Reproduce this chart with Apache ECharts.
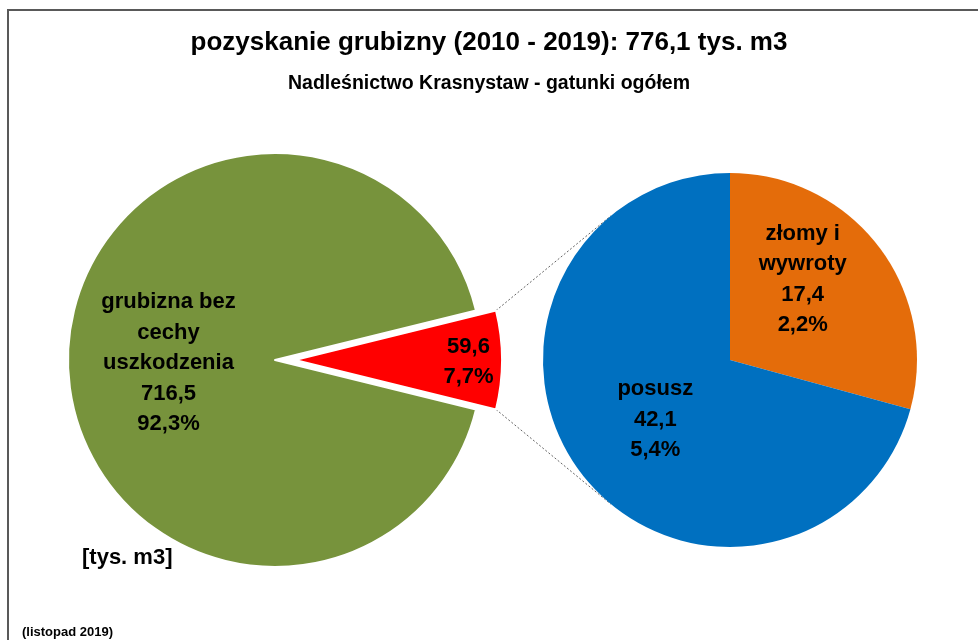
<!DOCTYPE html>
<html>
<head>
<meta charset="utf-8">
<script src="https://cdn.jsdelivr.net/npm/echarts@6/dist/echarts.min.js"></script>
<style>
  html, body { margin: 0; padding: 0; background: #fff; }
  #chart { width: 978px; height: 640px; }
</style>
</head>
<body>
<div id="chart"></div>
<script>
// Harvest split: main pie (all timber) and breakdown pie (damaged timber)
const mainNames = ['pozostałe', 'grubizna bez\ncechy\nuszkodzenia'];
const mainValues = [59.6, 716.5];
const mainColors = ['#FF0000', '#77933C'];

const detailNames = ['złomy i\nwywroty', 'posusz'];
const detailValues = [17.4, 42.1];
const detailColors = ['#E46C0A', '#0070C0'];

const titleText = 'pozyskanie grubizny (2010 - 2019): 776,1 tys. m3';
const subtitleText = 'Nadleśnictwo Krasnystaw - gatunki ogółem';
const unitText = '[tys. m3]';
const dateText = '(listopad 2019)';

const FONT = '"Liberation Sans Narrow", "Arial Narrow", "Liberation Sans", Arial, sans-serif';

// Geometry of both pies
const LEFT_C = [275, 360], LEFT_R = 207, EXPLODE = 20;
const RIGHT_C = [730, 360], RIGHT_R = 187;

const total = mainValues.reduce((a, b) => a + b, 0);
const fmt = v => v.toFixed(1).replace('.', ',');
const pct = v => fmt(v / total * 100) + '%';

// Damaged slice sits centred on the 3 o'clock direction
const halfAngle = 360 * mainValues[0] / total / 2;

// Dashed connectors: from the exploded slice's outer corners, tangent to the breakdown pie
function tangentPoint(p, c, r, upper) {
  const dx = p[0] - c[0], dy = p[1] - c[1];
  const d = Math.hypot(dx, dy);
  const base = Math.atan2(dy, dx);
  const a = Math.acos(r / d);
  const ang = upper ? base + a : base - a;
  return [c[0] + r * Math.cos(ang), c[1] + r * Math.sin(ang)];
}
const rad = halfAngle * Math.PI / 180;
const apex = [LEFT_C[0] + EXPLODE, LEFT_C[1]];
const cornerTop = [apex[0] + LEFT_R * Math.cos(rad), apex[1] - LEFT_R * Math.sin(rad)];
const cornerBot = [apex[0] + LEFT_R * Math.cos(rad), apex[1] + LEFT_R * Math.sin(rad)];
const tanTop = tangentPoint(cornerTop, RIGHT_C, RIGHT_R, true);
const tanBot = tangentPoint(cornerBot, RIGHT_C, RIGHT_R, false);

const labelBase = {
  show: true,
  position: 'inside',
  color: '#000',
  fontFamily: FONT,
  fontWeight: 'bold',
  fontSize: 22,
  lineHeight: 30.5,
  textBorderWidth: 0
};

const textStyle = (size, lh) => ({
  fontFamily: FONT, fontWeight: 'bold', fontSize: size, lineHeight: lh, color: '#000'
});

const chart = echarts.init(document.getElementById('chart'));
chart.setOption({
  animation: false,
  backgroundColor: '#fff',
  title: [
    { text: titleText, left: 'center', top: 23, textStyle: textStyle(26, 30) },
    { text: subtitleText, left: 'center', top: 67, textStyle: textStyle(19.5, 24) },
    { text: unitText, left: 77, top: 539, textStyle: textStyle(22, 28) },
    { text: dateText, left: 17, top: 619, textStyle: textStyle(13, 16) }
  ],
  graphic: [
    { type: 'rect', shape: { x: 8, y: 10, width: 1000, height: 700 },
      style: { fill: 'none', stroke: '#595959', lineWidth: 2 }, z: -1 },
    { type: 'line', shape: { x1: cornerTop[0], y1: cornerTop[1], x2: tanTop[0], y2: tanTop[1] },
      style: { stroke: '#666', lineWidth: 1, lineDash: [2, 2] } },
    { type: 'line', shape: { x1: cornerBot[0], y1: cornerBot[1], x2: tanBot[0], y2: tanBot[1] },
      style: { stroke: '#666', lineWidth: 1, lineDash: [2, 2] } }
  ],
  series: [
    {
      type: 'pie',
      center: LEFT_C,
      radius: LEFT_R,
      startAngle: halfAngle,
      clockwise: true,
      selectedMode: 'single',
      selectedOffset: EXPLODE,
      avoidLabelOverlap: false,
      emphasis: { disabled: true },
      itemStyle: { borderColor: '#fff', borderWidth: 2 },
      label: Object.assign({}, labelBase, {
        formatter: p => (p.dataIndex === 0 ? '' : p.name + '\n') + fmt(p.value) + '\n' + pct(p.value)
      }),
      labelLine: { show: false },
      labelLayout: p => (p.dataIndex === 0 ? { dx: 67, dy: 2 } : { dy: 3 }),
      data: mainValues.map((v, i) => ({
        value: v, name: mainNames[i], selected: i === 0,
        itemStyle: { color: mainColors[i] }
      }))
    },
    {
      type: 'pie',
      center: RIGHT_C,
      radius: RIGHT_R,
      startAngle: 90,
      clockwise: true,
      avoidLabelOverlap: false,
      selectedMode: false,
      emphasis: { disabled: true },
      label: Object.assign({}, labelBase, {
        formatter: p => p.name + '\n' + fmt(p.value) + '\n' + pct(p.value)
      }),
      labelLine: { show: false },
      labelLayout: p => (p.dataIndex === 0 ? { dx: -4, dy: -22 } : { dx: 2, dy: 1 }),
      data: detailValues.map((v, i) => ({
        value: v, name: detailNames[i],
        itemStyle: { color: detailColors[i] }
      }))
    }
  ]
});
</script>
</body>
</html>
